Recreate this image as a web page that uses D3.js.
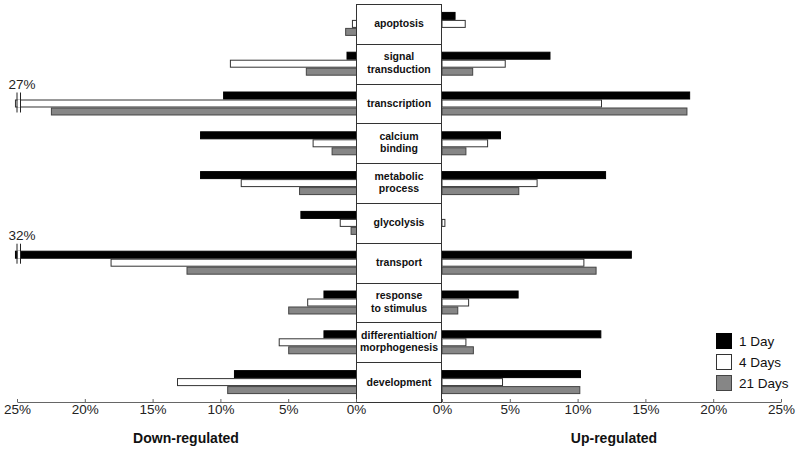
<!DOCTYPE html>
<html>
<head>
<meta charset="utf-8">
<script src="https://cdn.jsdelivr.net/npm/d3@7"></script>
<style>
    body { margin: 0; background: #fff; }
    svg text { font-family: "Liberation Sans", Arial, sans-serif; }
</style>
</head>
<body>
<div id="block"></div>
<script>
// categories (line breaks as in the picture)
var categories = ["apoptosis", "signal\ntransduction", "transcription", "calcium\nbinding",
                  "metabolic\nprocess", "glycolysis", "transport", "response\nto stimulus",
                  "differentialtion/\nmorphogenesis", "development"];
var series = ["1 Day", "4 Days", "21 Days"];

// percent of genes, down-regulated (left) and up-regulated (right)
var down_1d  = [0,    0.7, 9.8,  11.5, 11.5, 4.1, 32,   2.4, 2.4,  9.0];
var down_4d  = [0.3,  9.3, 27,   3.2,  8.5,  1.2, 18.1, 3.6, 5.7,  13.2];
var down_21d = [0.8,  3.7, 22.5, 1.8,  4.2,  0.4, 12.5, 5.0, 5.0,  9.5];
var up_1d    = [1.0,  8.0, 18.3, 4.35, 12.1, 0,   14.0, 5.65, 11.75, 10.25];
var up_4d    = [1.75, 4.7, 11.8, 3.4,  7.05, 0.25, 10.5, 2.0, 1.8,  4.5];
var up_21d   = [0,    2.3, 18.1, 1.8,  5.7,  0,   11.4, 1.2, 2.35, 10.2];

var tick_values = [0, 5, 10, 15, 20, 25];

// dimensions
var svg_dx = 800,
    svg_dy = 454,
    top_y = 4,
    axis_y = 402,
    box_left = 356,
    box_right = 442,
    axis_max = 25;

var fills   = {"1 Day": "#000", "4 Days": "#fff", "21 Days": "#868686"},
    strokes = {"1 Day": "#000", "4 Days": "#333", "21 Days": "#444"};

var rows = categories.map(function (c, i) {
    return {
        cat: c,
        down: [down_1d[i], down_4d[i], down_21d[i]],
        up:   [up_1d[i], up_4d[i], up_21d[i]]
    };
});

// scales
var xL = d3.scaleLinear().domain([0, axis_max]).range([box_left, 17]);
var xR = d3.scaleLinear().domain([0, axis_max]).range([box_right, 781]);
var y0 = d3.scaleBand().domain(categories).range([top_y, axis_y]);
var y1 = d3.scaleBand().domain(series).range([0, y0.bandwidth()]).paddingOuter(0.99);

var shown = function (v) { return Math.min(v, axis_max + 0.15); };

var svg = d3.select("#block")
            .append("svg")
            .attr("width", svg_dx)
            .attr("height", svg_dy);

// bars
var groups = svg.append("g")
                .selectAll("g")
                .data(rows)
                .enter()
                .append("g")
                .attr("transform", function (d) { return "translate(0," + y0(d.cat) + ")"; });

groups.selectAll("rect.down")
      .data(function (d) { return d.down.map(function (v, j) { return {s: series[j], v: v}; }); })
      .enter()
      .filter(function (d) { return d.v > 0; })
      .append("rect")
      .attr("class", "down")
      .attr("x", function (d) { return xL(shown(d.v)) + 0.5; })
      .attr("y", function (d) { return y1(d.s) + 0.5; })
      .attr("width", function (d) { return box_left - xL(shown(d.v)); })
      .attr("height", y1.bandwidth() - 1)
      .attr("fill", function (d) { return fills[d.s]; })
      .attr("stroke", function (d) { return strokes[d.s]; });

groups.selectAll("rect.up")
      .data(function (d) { return d.up.map(function (v, j) { return {s: series[j], v: v}; }); })
      .enter()
      .filter(function (d) { return d.v > 0; })
      .append("rect")
      .attr("class", "up")
      .attr("x", box_right)
      .attr("y", function (d) { return y1(d.s) + 0.5; })
      .attr("width", function (d) { return xR(d.v) - box_right - 0.5; })
      .attr("height", y1.bandwidth() - 1)
      .attr("fill", function (d) { return fills[d.s]; })
      .attr("stroke", function (d) { return strokes[d.s]; });

// axis breaks for values past 25%
var breaks = [];
rows.forEach(function (r) {
    r.down.forEach(function (v, j) {
        if (v > axis_max) breaks.push({cat: r.cat, s: series[j], v: v});
    });
});

var brk = svg.append("g")
             .selectAll("g")
             .data(breaks)
             .enter()
             .append("g")
             .attr("transform", function (d) { return "translate(0," + (y0(d.cat) + y1(d.s)) + ")"; });

brk.append("rect")
   .attr("x", xL(axis_max) + 0.5)
   .attr("y", 0)
   .attr("width", 3)
   .attr("height", y1.bandwidth())
   .attr("fill", "#fff");

brk.selectAll("line")
   .data([0, 3.5])
   .enter()
   .append("line")
   .attr("x1", function (d) { return xL(axis_max) + d; })
   .attr("x2", function (d) { return xL(axis_max) + d; })
   .attr("y1", -7)
   .attr("y2", y1.bandwidth() + 5)
   .attr("stroke", "#222")
   .attr("stroke-width", 1);

brk.append("text")
   .attr("x", xL(axis_max) + 5)
   .attr("y", -11)
   .attr("text-anchor", "middle")
   .style("font-size", "13.5px")
   .attr("fill", "#222")
   .text(function (d) { return d.v + "%"; });

// center label box
var box = svg.append("g");

box.append("rect")
   .attr("x", box_left + 0.5)
   .attr("y", top_y + 0.5)
   .attr("width", box_right - box_left - 1)
   .attr("height", axis_y - top_y)
   .attr("fill", "#fff")
   .attr("stroke", "#333");

box.selectAll("line")
   .data(categories.slice(1))
   .enter()
   .append("line")
   .attr("x1", box_left)
   .attr("x2", box_right)
   .attr("y1", function (d) { return Math.round(y0(d)) + 0.5; })
   .attr("y2", function (d) { return Math.round(y0(d)) + 0.5; })
   .attr("stroke", "#333");

box.selectAll("text")
   .data(categories)
   .enter()
   .append("text")
   .attr("text-anchor", "middle")
   .style("font-size", "10.5px")
   .style("font-weight", "bold")
   .attr("fill", "#111")
   .each(function (d) {
       var lines = d.split("\n"),
           cy = y0(d) + y0.bandwidth() / 2,
           t = d3.select(this);
       lines.forEach(function (ln, k) {
           var base = lines.length === 1 ? cy + 3.5 : cy - 3.5 + k * 12.5;
           t.append("tspan")
            .attr("x", (box_left + box_right) / 2)
            .attr("y", base)
            .text(ln);
       });
   });

// axes
var fmt = function (d) { return d + "%"; };

var axisL = svg.append("g")
               .attr("transform", "translate(0," + axis_y + ")")
               .call(d3.axisBottom(xL).tickValues(tick_values).tickFormat(fmt)
                        .tickSizeInner(-3).tickSizeOuter(0).tickPadding(2));
var axisR = svg.append("g")
               .attr("transform", "translate(0," + axis_y + ")")
               .call(d3.axisBottom(xR).tickValues(tick_values).tickFormat(fmt)
                        .tickSizeInner(-3).tickSizeOuter(0).tickPadding(2));

svg.selectAll(".domain, .tick line").attr("stroke", "#666");
svg.selectAll(".tick text")
   .style("font-size", "13.5px")
   .style("font-family", "Liberation Sans, Arial, sans-serif")
   .attr("fill", "#222");

// axis titles
svg.append("text")
   .attr("x", 186)
   .attr("y", 443)
   .attr("text-anchor", "middle")
   .style("font-size", "14px")
   .style("font-weight", "bold")
   .attr("fill", "#111")
   .text("Down-regulated");

svg.append("text")
   .attr("x", 614)
   .attr("y", 443)
   .attr("text-anchor", "middle")
   .style("font-size", "14px")
   .style("font-weight", "bold")
   .attr("fill", "#111")
   .text("Up-regulated");

// legend
var legend = svg.append("g")
                .selectAll("g")
                .data(series)
                .enter()
                .append("g")
                .attr("transform", function (d, i) { return "translate(716," + (333 + i * 21) + ")"; });

legend.append("rect")
      .attr("x", 0.5)
      .attr("y", 0.5)
      .attr("width", 15)
      .attr("height", 15)
      .attr("fill", function (d) { return fills[d]; })
      .attr("stroke", function (d) { return strokes[d]; });

legend.append("text")
      .attr("x", 23)
      .attr("y", 13)
      .style("font-size", "13.5px")
      .attr("fill", "#111")
      .text(function (d) { return d; });
</script>
</body>
</html>
